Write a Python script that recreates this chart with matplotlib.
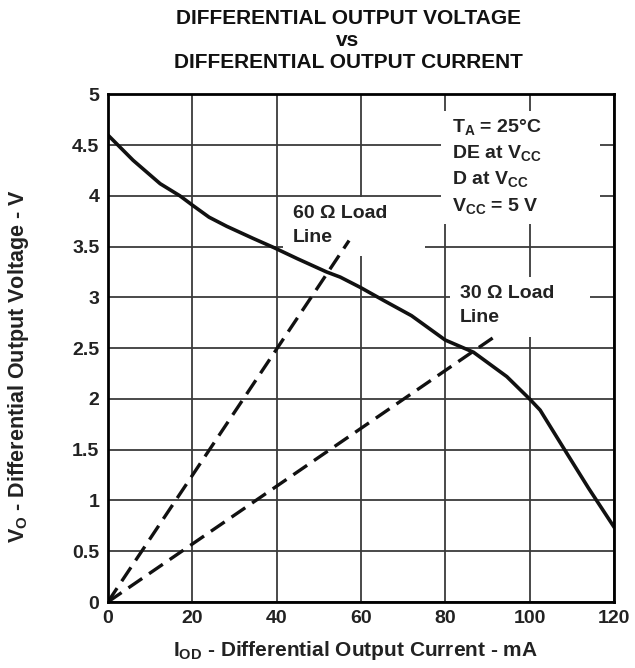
import numpy as np
import matplotlib
matplotlib.use("Agg")
import matplotlib.pyplot as plt
from matplotlib.patches import Rectangle

plt.rcParams['font.family'] = ['Liberation Sans', 'DejaVu Sans']
plt.rcParams['font.weight'] = 'bold'
plt.rcParams['mathtext.default'] = 'regular'

# output curve (mA, V)
i_od = [0, 6, 12.4, 17.1, 20, 24, 28.2, 34.5, 39.4, 45, 51.9, 55.1, 59.8, 65.4,
        72, 80, 86.7, 94.6, 100, 102.5, 108.9, 114, 120]
v_o = [4.60, 4.35, 4.12, 4.00, 3.91, 3.79, 3.70, 3.58, 3.49, 3.38, 3.25, 3.20, 3.10,
       2.97, 2.82, 2.58, 2.46, 2.22, 2.00, 1.89, 1.46, 1.12, 0.74]

# load lines: from origin to end point
line60_x = [0, 57.2]
line60_y = [0, 3.56]
line30_x = [0, 92.3]
line30_y = [0, 2.63]

xticks = [0, 20, 40, 60, 80, 100, 120]
yticks = [0, 0.5, 1, 1.5, 2, 2.5, 3, 3.5, 4, 4.5, 5]
ytick_labels = ['0', '0.5', '1', '1.5', '2', '2.5', '3', '3.5', '4', '4.5', '5']

title_lines = ['DIFFERENTIAL OUTPUT VOLTAGE', 'vs', 'DIFFERENTIAL OUTPUT CURRENT']

fig = plt.figure(figsize=(6.35, 6.68), dpi=100)
ax = fig.add_axes([0.1698, 0.0988, 0.797, 0.760])

ax.set_xlim(0, 120)
ax.set_ylim(0, 5)
ax.set_xticks(xticks)
ax.set_yticks(yticks)
ax.set_yticklabels(ytick_labels)
ax.tick_params(length=0, labelsize=14, pad=6, labelcolor='#222222')
for lab in ax.get_xticklabels() + ax.get_yticklabels():
    lab.set_fontweight('bold')
ax.grid(True, color='#3a3a3a', linewidth=1.3, zorder=1)
ax.set_axisbelow(True)
for s in ax.spines.values():
    s.set_linewidth(2)
    s.set_zorder(5)

# white text frames that break the grid
for (x0, y0, x1, y1) in [(41.5, 3.41, 75.3, 3.99), (81.2, 2.61, 114.4, 3.20),
                         (78.9, 3.72, 116.8, 4.84)]:
    ax.add_patch(Rectangle((x0, y0), x1 - x0, y1 - y0, facecolor='white',
                           edgecolor='none', zorder=2))

ax.plot(i_od, v_o, color='#111111', linewidth=2.6, zorder=4, solid_joinstyle='round')
ax.plot(line60_x, line60_y, color='#111111', linewidth=2.4, dashes=(5, 2.5), zorder=4)
ax.plot(line30_x, line30_y, color='#111111', linewidth=2.4, dashes=(5, 2.5), zorder=4)

ax.text(43.9, 3.91, '60 Ω Load\nLine', fontsize=14, fontweight='bold', va='top',
        ha='left', linespacing=1.55, zorder=3, color='#222222')
ax.text(83.4, 3.12, '30 Ω Load\nLine', fontsize=14, fontweight='bold', va='top',
        ha='left', linespacing=1.55, zorder=3, color='#222222')
ax.text(81.6, 4.78,
        '$T_A$ = 25°C\nDE at $V_{CC}$\nD at $V_{CC}$\n$V_{CC}$ = 5 V',
        fontsize=14, fontweight='bold', va='top', ha='left', linespacing=1.42,
        zorder=3, color='#222222')

ax.set_xlabel('$I_{OD}$ - Differential Output Current - mA', fontsize=15,
              fontweight='bold', color='#222222')
ax.xaxis.set_label_coords(0.489, -0.072)
ax.xaxis.label.set_va('top')
ax.set_ylabel('$V_O$ - Differential Output Voltage - V', fontsize=15.5,
              fontweight='bold', color='#222222')
ax.yaxis.set_label_coords(-0.152, 0.465)

for k, line in enumerate(title_lines):
    fig.text(348 / 635, 1 - (18 + 22 * k) / 668, line, ha='center', va='center',
             fontsize=15, fontweight='bold', color='#111111')

fig.savefig('out.png', dpi=100)
